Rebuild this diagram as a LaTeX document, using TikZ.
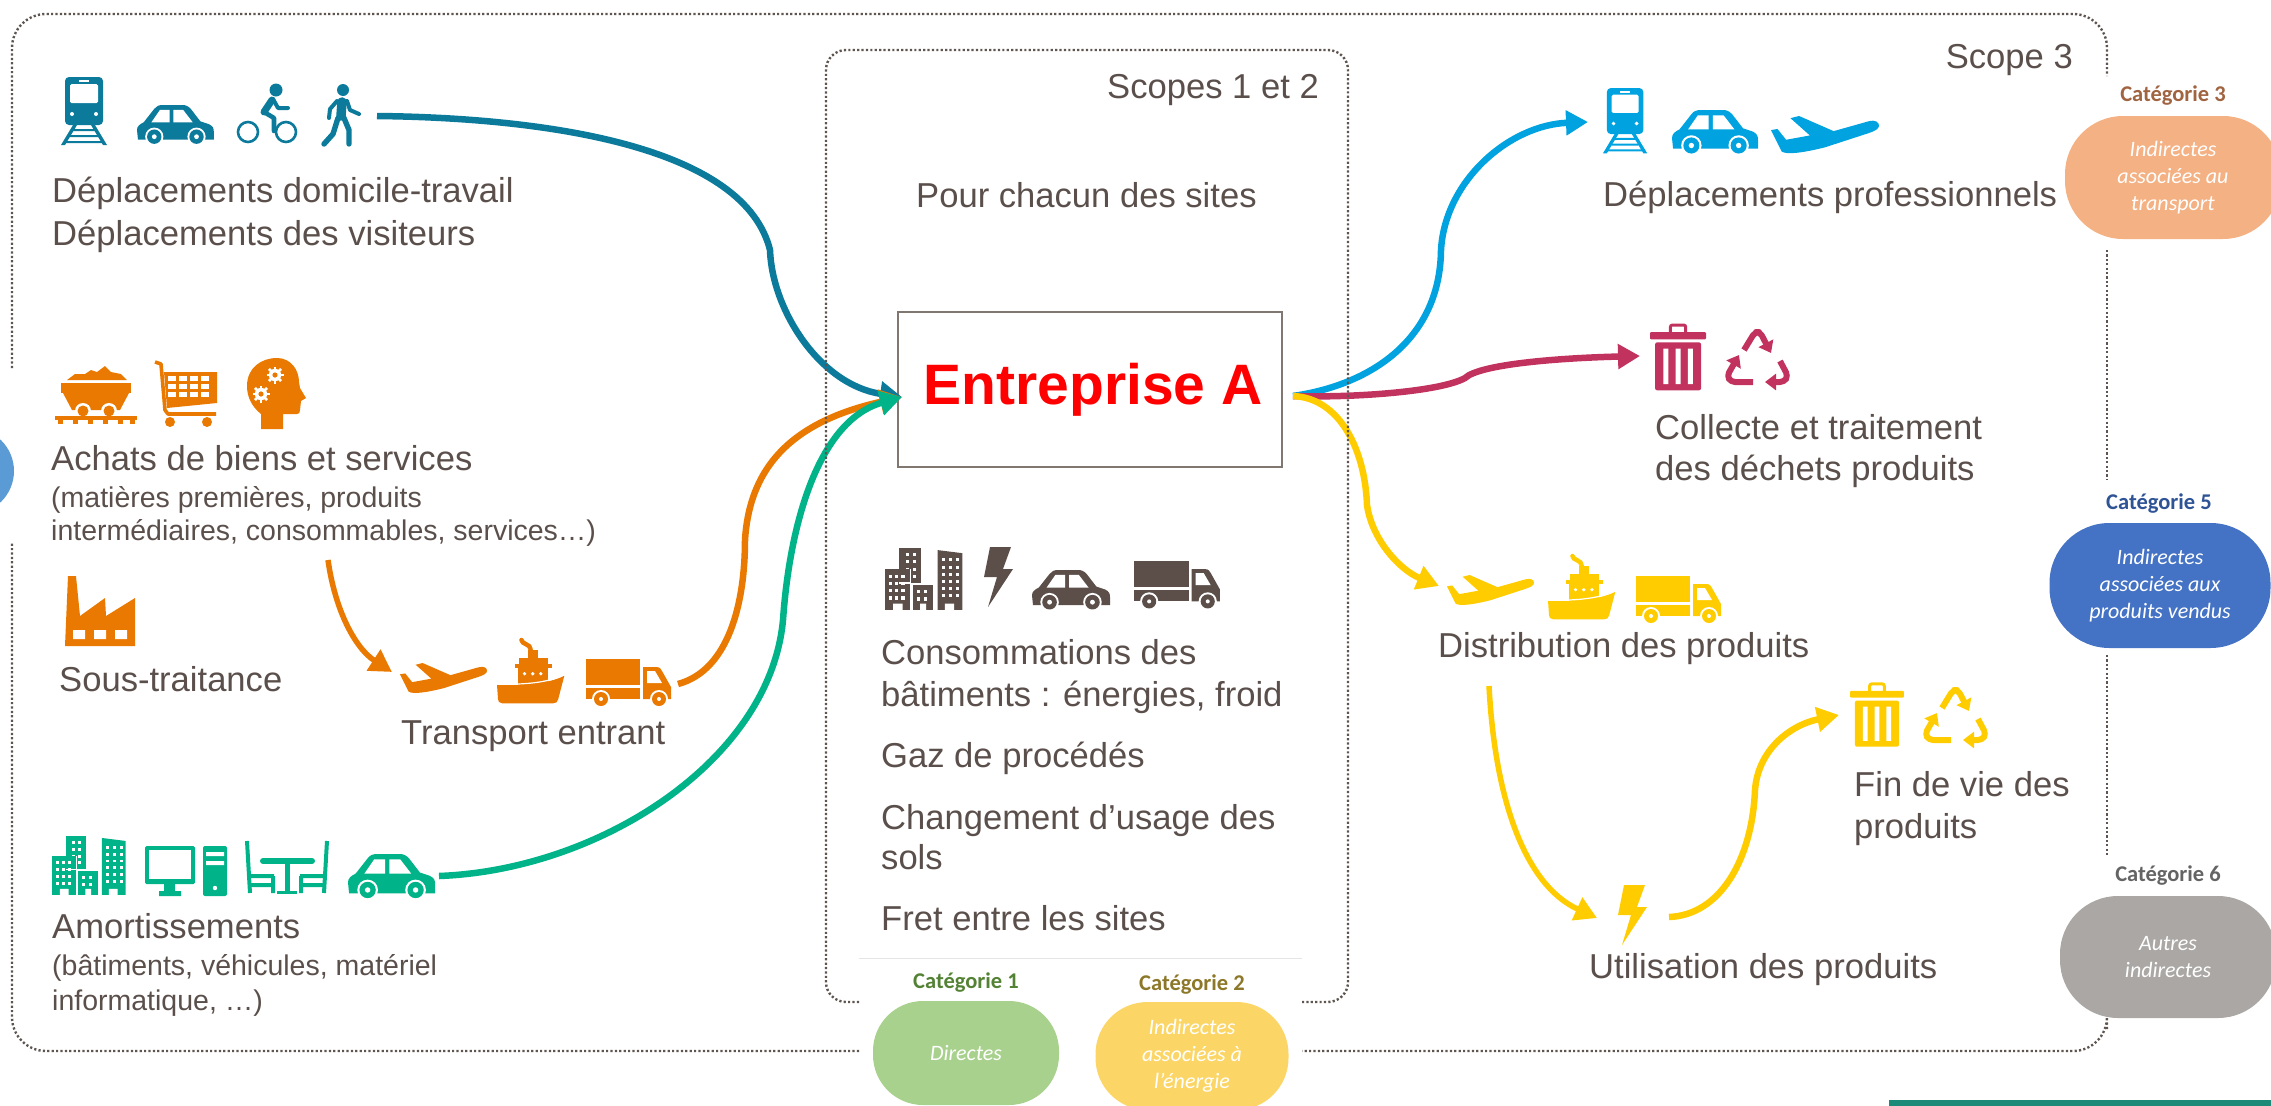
\documentclass[tikz,border=0pt]{standalone}
\usepackage{fontspec}
\setmainfont{Liberation Sans}
\newfontfamily\catfont{Carlito}
\usetikzlibrary{arrows.meta}
\definecolor{txt}{HTML}{5A4F4B}
\definecolor{frameC}{HTML}{5E5551}
\definecolor{tealC}{HTML}{0B7A9B}
\definecolor{orangeC}{HTML}{E97900}
\definecolor{greenC}{HTML}{00B388}
\definecolor{grayC}{HTML}{5C4F4A}
\definecolor{skyC}{HTML}{00A3E0}
\definecolor{magC}{HTML}{C2325F}
\definecolor{yelC}{HTML}{FFCC00}
\definecolor{leftC}{HTML}{5B9BD5}
\definecolor{barC}{HTML}{1B8A78}
\definecolor{boxC}{HTML}{7F7770}
\definecolor{fillA}{HTML}{A9D18E}
\definecolor{fillB}{HTML}{FBD667}
\definecolor{fillC}{HTML}{F4B183}
\definecolor{fillD}{HTML}{4472C4}
\definecolor{fillE}{HTML}{AAA7A5}
\definecolor{labA}{HTML}{548235}
\definecolor{labB}{HTML}{8C7828}
\definecolor{labC}{HTML}{A06441}
\definecolor{labD}{HTML}{2F5496}
\definecolor{labE}{HTML}{646464}
\tikzset{
  lbl/.style={anchor=base west,inner sep=0pt,text=txt,font=\fontsize{34.6}{40}\selectfont},
  ml/.style={anchor=north west,inner sep=0pt,text=txt,align=left,font=\fontsize{34.6}{#1}\selectfont},
  subt/.style={anchor=north west,inner sep=0pt,text=txt,align=left,font=\fontsize{28.5}{#1}\selectfont},
  catlabel/.style={inner sep=0pt,font=\catfont\bfseries\fontsize{22.5}{24}\selectfont},
  blob/.style={inner sep=0pt,text=white,align=center,minimum width=#1,
     font=\catfont\itshape\fontsize{22}{27}\selectfont},
  flow/.style={line width=6.5pt,-{Triangle[length=22pt,width=24pt]}},
  dotframe/.style={draw=frameC,line width=2.4pt,dash pattern=on 2.2pt off 2.2pt},
  pics/icar/.style={code={
    \fill (1,36) -- (0,26) .. controls (0,22) and (3,20) .. (7,18) -- (18,4) .. controls (20,1) and (23,0) .. (27,0) -- (47,0) .. controls (51,0) and (53,1) .. (56,4) -- (66,17) -- (75,20) .. controls (79,22) and (80,24) .. (80,28) -- (80,36) -- cycle;
    \fill[white] (15,18) -- (24,5) -- (34,5) -- (34,18) -- cycle (38,5) -- (48,5) -- (58,18) -- (38,18) -- cycle;
    \foreach \c in {18,62}{
      \fill[white] (\c,33) circle (9.5);
      \fill (\c,33) circle (7.5);
      \fill[white] (\c,33) circle (2.5);}
  }},
  pics/itrain/.style={code={
    \fill[rounded corners=4pt] (4,0) rectangle (42,48);
    \fill[white,rounded corners=1.5pt] (9,7) rectangle (37,26);
    \fill[white] (18,3) rectangle (28,5);
    \fill[white] (11,37) circle (2) (35,37) circle (2);
    \fill (12,48) -- (16,48) -- (4,68) -- (0,68) -- cycle (30,48) -- (34,48) -- (46,68) -- (42,68) -- cycle;
    \fill (12,52) rectangle (34,54) (9,58) rectangle (37,60) (5,64) rectangle (41,66);
  }},
  pics/ibike/.style={code={
    \draw[line width=2.6pt] (11,49) circle (10) (49,49) circle (10);
    \fill (39,7) circle (6.5);
    \draw[line width=7pt,line cap=round] (35,17) -- (27,29);
    \draw[line width=4.6pt,line join=round,line cap=round] (27,29) -- (37,35) -- (37,48);
    \draw[line width=4pt,line join=round,line cap=round] (36,16) -- (41,25) -- (51,25);
  }},
  pics/iwalker/.style={code={
    \fill (22,6) circle (6);
    \draw[line width=9.5pt,line cap=round] (21,18) -- (20,32);
    \draw[line width=4pt,line join=round,line cap=round] (16,17) -- (9,25) -- (8,34);
    \draw[line width=4pt,line join=round,line cap=round] (26,17) -- (29,26) -- (38,30);
    \draw[line width=5.4pt,line join=round,line cap=round] (17,34) -- (12,50) -- (3,60);
    \draw[line width=5.4pt,line join=round,line cap=round] (23,34) -- (28,46) -- (28,60);
  }},
  pics/iplane/.style={code={
    \fill (0,13) -- (6,12) -- (14,22) -- (36,18) -- (18,2) -- (26,0) -- (58,14) -- (90,5) .. controls (97,3) and (100,6) .. (100,9) .. controls (100,12) and (96,14) .. (90,16) -- (50,29) .. controls (30,34) and (15,36) .. (10,33) -- cycle;
  }},
  pics/iship/.style={code={
    \draw[line width=4.5pt,line cap=round] (24,2) .. controls (24,6) and (33,6) .. (33,11);
    \fill (30,12) rectangle (40,22);
    \fill (22,20) rectangle (50,25);
    \fill (18,25) rectangle (54,29);
    \fill (21,29) rectangle (50,46);
    \foreach \c in {27,35,43}{\fill[white] (\c,35) circle (1.8);}
    \fill (0,46) .. controls (25,47) and (50,45) .. (66,37) -- (60,60) .. controls (59,63) and (58,64) .. (55,64) -- (5,64) .. controls (2,64) and (1,62) .. (1,60) -- cycle;
    \draw[white,line width=1.2pt] (0,45) .. controls (25,46) and (50,44) .. (66,36);
  }},
  pics/itruck/.style={code={
    \fill (0,0) rectangle (54,40);
    \fill[white] (0,26) rectangle (54,28.5);
    \fill (57,8) -- (70,8) .. controls (74,8) and (75,10) .. (76,12) -- (85,28) -- (85,40) -- (57,40) -- cycle;
    \fill[white] (61,12) -- (69,12) -- (76,24) -- (61,24) -- cycle;
    \foreach \c in {15,73}{
      \fill[white] (\c,40) circle (9);
      \fill (\c,40) circle (7);
      \fill[white] (\c,40) circle (2);}
  }},
  pics/ibolt/.style={code={
    \fill (6,0) -- (27,0) -- (19,22) -- (29,22) -- (4,60) -- (13,30) -- (0,30) -- cycle;
  }},
  pics/ibuilding/.style={code={
    \fill (14,0) rectangle (35,34);
    \fill (0,20) rectangle (25,60);
    \fill (27,36) rectangle (47,60);
    \fill (51,2) -- (75,5) -- (75,60) -- (51,60) -- cycle;
    \foreach \x in {20,27}{\foreach \y in {5,12,19,26}{\fill[white] (\x,\y) rectangle ++(3,3);}}
    \fill (14,20) rectangle (25,34);
    \draw[white,line width=1.3pt] (25,20) -- (25,60) (14,34) -- (25,34);
    \foreach \x in {4,10,16}{\foreach \y in {26,33,40,47}{\fill[white] (\x,\y) rectangle ++(3,3);}}
    \foreach \x in {31,38}{\foreach \y in {41,48}{\fill[white] (\x,\y) rectangle ++(3,3);}}
    \foreach \x in {55,62,69}{\foreach \y in {10,17,24,31,38,45}{\fill[white] (\x,\y) rectangle ++(3,3);}}
    \fill[white] (8,54) rectangle (17,60) (34,54) rectangle (40,60) (58,54) rectangle (67,60);
  }},
  pics/itrash/.style={code={
    \draw[line width=3pt,rounded corners=2pt] (20,10) -- (20,2) -- (35,2) -- (35,10);
    \fill[rounded corners=1pt] (0,9) rectangle (55,16);
    \fill[rounded corners=2pt] (5,19) rectangle (50,66);
    \fill[white] (13,25) rectangle (18,60) (25,25) rectangle (30,60) (37,25) rectangle (42,60);
  }},
  pics/irecycle/.style={code={
    \begin{scope}[line width=6pt,line join=round,rounded corners=4pt]
    \draw[-{Triangle[length=11pt,width=16pt]}] (19,22) -- (30,4) -- (35,4) -- (46,25);
    \draw[-{Triangle[length=11pt,width=16pt]}] (55,33) -- (63,48) -- (59,54) -- (40,54);
    \draw[-{Triangle[length=11pt,width=16pt]}] (28,54) -- (6,54) -- (2,48) -- (14,27);
    \end{scope}
  }},
  pics/iwagon/.style={code={
    \fill (12,14) -- (20,8) -- (30,8) -- (36,4) -- (42,6) -- (50,0) -- (56,6) -- (66,8) -- (72,14) -- cycle;
    \fill (6,17) rectangle (76,27);
    \fill (8,27) -- (74,27) -- (65,44) -- (17,44) -- cycle;
    \foreach \c in {28,54}{
      \fill[white] (\c,45) circle (8);
      \fill (\c,45) circle (5.5);}
    \fill (0,50) rectangle (82,54);
    \foreach \c in {3,18,33,48,63,75}{\fill (\c,54) rectangle ++(5,4);}
  }},
  pics/icart/.style={code={
    \draw[line width=3.6pt,line join=round] (0,2) -- (6,4) -- (10,50) -- (13,54) -- (61,54);
    \fill (9,12) -- (62,12) -- (62,43) -- (12,48) -- cycle;
    \foreach \x in {13,24,35,46}{\foreach \y in {16,24,32}{\fill[white] (\x,\y) rectangle ++(8,5);}}
    \fill (15,62) circle (5) (52,62) circle (5);
  }},
  pics/ihead/.style={code={
    \fill (14,71) -- (14,56) .. controls (4,48) and (0,38) .. (0,28) .. controls (0,10) and (14,0) .. (30,0) .. controls (44,0) and (52,12) .. (52,24) -- (53,30) -- (59,40) -- (54,43) -- (53,52) .. controls (53,55) and (52,56) .. (50,56) -- (36,56) -- (36,71) -- cycle;
    \foreach \px/\py in {28/17,14/36}{
      \begin{scope}[shift={(\px,\py)}]
      \foreach \a in {0,45,...,315}{\draw[white,line width=2.6pt] (\a:4) -- (\a:8.5);}
      \fill[white] (0,0) circle (6.2);
      \fill (0,0) circle (2.6);
      \end{scope}}
  }},
  pics/ifactory/.style={code={
    \fill (0,70) -- (3,0) -- (11,0) -- (15,40) -- (40,22) -- (41,40) -- (70,22) -- (70,70) -- cycle;
    \fill[white] (8,54) rectangle (20,63) (29,54) rectangle (41,63) (50,54) rectangle (62,63);
  }},
  pics/icomputer/.style={code={
    \fill[rounded corners=1.5pt] (0,0) rectangle (50,38);
    \fill[white] (4,4) rectangle (46,33);
    \fill (19,38) rectangle (30,45) (14,45) rectangle (36,50);
    \fill[rounded corners=2pt] (58,0) rectangle (82,50);
    \fill[white] (61,6) rectangle (79,10) (61,15) rectangle (79,19);
    \fill[white] (70,42) circle (2.2);
  }},
  pics/itable/.style={code={
    \begin{scope}[line width=4pt]
    \draw (1,0) -- (4,52) (3,35) -- (28,35) (27,35) -- (27,52) (4,44) -- (27,44);
    \draw (81,0) -- (78,52) (79,35) -- (54,35) (55,35) -- (55,52) (78,44) -- (55,44);
    \end{scope}
    \draw[line width=6pt,line cap=round] (17,20) -- (66,20);
    \draw[line width=5pt] (41,20) -- (41,50);
    \draw[line width=3.6pt] (31,51.5) -- (51,51.5);
  }},
}
\begin{document}
\begin{tikzpicture}[x=1pt,y=-1pt]
\useasboundingbox (0,0) rectangle (2271,1106);
% off-page shapes
\node[circle,fill=leftC,minimum size=86pt,inner sep=0pt] (leftblob) at (-29,471) {};
\fill[barC] (1889,1100) rectangle (2271,1106);

% entreprise
\node[draw=boxC,line width=2.6pt,minimum width=384pt,minimum height=155pt,inner sep=0pt,text=red,font=\bfseries\fontsize{57}{60}\selectfont] (ent) at (1090,389.5) {\hspace{6pt}Entreprise A};

% connector ends
\coordinate (inA) at (902,397);
\coordinate (outA) at (1293,396);
\coordinate (walkEnd) at (377,116);
\coordinate (buyEnd) at (328,560);
\coordinate (planeIn) at (392,672);
\coordinate (truckOut) at (678,684);
\coordinate (carOut) at (439,876);
\coordinate (trainIn) at (1588,122);
\coordinate (trashIn) at (1640,356);
\coordinate (planeY) at (1439,586);
\coordinate (distOut) at (1489,686);
\coordinate (boltIn) at (1597,918);
\coordinate (boltOut) at (1669,917);
\coordinate (trashY) at (1839,715);

% connectors
\draw[flow,tealC] (walkEnd) .. controls (560,118) and (745,150) .. (770,250) .. controls (772,310) and (820,385) .. (inA);
\draw[flow,orangeC,line width=5.5pt] (buyEnd) .. controls (335,610) and (355,648) .. (planeIn);
\draw[flow,orangeC] (truckOut) .. controls (730,670) and (745,600) .. (745,540) .. controls (750,460) and (800,420) .. (inA);
\draw[flow,greenC] (carOut) .. controls (600,870) and (770,760) .. (783,620) .. controls (790,520) and (820,420) .. (inA);
\draw[flow,skyC] (outA) .. controls (1370,385) and (1440,340) .. (1441,250) .. controls (1445,180) and (1510,125) .. (trainIn);
\draw[flow,magC] (outA) .. controls (1350,398) and (1440,392) .. (1465,378) .. controls (1480,364) and (1560,358) .. (trashIn);
\draw[flow,yelC] (outA) .. controls (1340,398) and (1365,450) .. (1367,505) .. controls (1372,540) and (1400,570) .. (planeY);
\draw[flow,yelC,line width=5.5pt] (distOut) .. controls (1495,800) and (1525,885) .. (boltIn);
\draw[flow,yelC] (boltOut) .. controls (1720,915) and (1752,860) .. (1755,790) .. controls (1758,750) and (1790,725) .. (trashY);

% frames
\path[dotframe,rounded corners=34pt] (12,368) -- (12,14) -- (2107,14) -- (2107,76);
\path[dotframe] (2107,250) -- (2107,480) (2107,655) -- (2107,856);
\path[dotframe,rounded corners=34pt] (2107,1029) -- (2107,1051) -- (1302,1051);
\path[dotframe,rounded corners=34pt] (859,1051) -- (12,1051) -- (12,543);
\path[dotframe,rounded corners=20pt] (859,1002) -- (826,1002) -- (826,50) -- (1348,50) -- (1348,1002) -- (1302,1002);
\draw[black!10,line width=.8pt] (859,958) -- (1302,958);

% icons
\pic[color=tealC] (i1) at (61,77) {itrain};
\pic[color=tealC,scale=.96] (i2) at (137,105) {icar};
\pic[color=tealC] (i3) at (237,83) {ibike};
\pic[color=tealC] (i4) at (321,84) {iwalker};
\pic[color=orangeC] (i5) at (55,366) {iwagon};
\pic[color=orangeC] (i6) at (155,360) {icart};
\pic[color=orangeC] (i7) at (247,358) {ihead};
\pic[color=orangeC] (i8) at (65,576) {ifactory};
\pic[color=orangeC,scale=.87] (i9) at (400,663) {iplane};
\pic[color=orangeC,scale=1.02] (i10) at (497,638) {iship};
\pic[color=orangeC] (i11) at (586,659) {itruck};
\pic[color=greenC,scale=.98] (i12) at (52,836) {ibuilding};
\pic[color=greenC] (i13) at (145,846) {icomputer};
\pic[color=greenC] (i14) at (246,841) {itable};
\pic[color=greenC,scale=1.09] (i15) at (348,854) {icar};
\pic[color=grayC,scale=1.03] (i16) at (885,548) {ibuilding};
\pic[color=grayC] (i17) at (984,547) {ibolt};
\pic[color=grayC,scale=.975] (i18) at (1032,570) {icar};
\pic[color=grayC,scale=1.01] (i19) at (1134,561) {itruck};
\pic[color=skyC,scale=.96] (i20) at (1603,88) {itrain};
\pic[color=skyC,scale=1.075] (i21) at (1672,110) {icar};
\pic[color=skyC,scale=1.08] (i22) at (1771,116) {iplane};
\pic[color=magC,scale=1.02] (i23) at (1650,323) {itrash};
\pic[color=magC] (i24) at (1725,328) {irecycle};
\pic[color=yelC,scale=.87] (i25) at (1447,575) {iplane};
\pic[color=yelC,scale=1.02] (i26) at (1548,554) {iship};
\pic[color=yelC] (i27) at (1636,576) {itruck};
\pic[color=yelC,scale=.98] (i28) at (1850,682) {itrash};
\pic[color=yelC] (i29) at (1923,686) {irecycle};
\pic[color=yelC] (i30) at (1618,885) {ibolt};

% texts
\node[ml=43pt] (t1) at (52,171.9) {\strut Déplacements domicile-travail\\Déplacements des visiteurs};
\node[lbl] (t2) at (51,470) {Achats de biens et services};
\node[subt=33pt] (t3) at (51,483.9) {\strut (matières premières, produits\\intermédiaires, consommables, services…)};
\node[lbl] (t4) at (59,691) {Sous-traitance};
\node[lbl] (t5) at (401,744) {Transport entrant};
\node[lbl] (t6) at (52,938) {Amortissements};
\node[subt=35pt] (t7) at (52,950.5) {\strut (bâtiments, véhicules, matériel\\informatique, …)};
\node[lbl,anchor=base east] (t8) at (1319,98) {Scopes 1 et 2};
\node[lbl] (t9) at (916,207) {Pour chacun des sites};
\node[ml=42pt] (t10) at (881,634.6) {\strut Consommations des\\bâtiments : énergies, froid};
\node[lbl] (t11) at (881,767) {Gaz de procédés};
\node[ml=40pt] (t12) at (881,801) {\strut Changement d’usage des\\sols};
\node[lbl] (t13) at (881,930) {Fret entre les sites};
\node[lbl,anchor=base east] (t14) at (2073,68) {Scope 3};
\node[lbl] (t15) at (1603,206) {Déplacements professionnels};
\node[ml=41pt] (t16) at (1655,410.3) {\strut Collecte et traitement\\des déchets produits};
\node[lbl] (t17) at (1438,657) {Distribution des produits};
\node[ml=42pt] (t18) at (1854,766.6) {\strut Fin de vie des\\produits};
\node[lbl] (t19) at (1589,978) {Utilisation des produits};

% categories
\node[blob=186pt,minimum height=104pt,rounded corners=50pt,fill=fillA] (c1) at (966,1053) {Directes};
\node[blob=193pt,minimum height=108pt,rounded corners=52pt,fill=fillB] (c2) at (1192,1056) {Indirectes\\associées à\\l’énergie};
\node[blob=216pt,minimum height=123pt,rounded corners=58pt,fill=fillC] (c3) at (2173,177.5) {Indirectes\\associées au\\transport};
\node[blob=221pt,minimum height=125pt,rounded corners=60pt,fill=fillD] (c5) at (2160,585.5) {Indirectes\\associées aux\\produits vendus};
\node[blob=216pt,minimum height=122pt,rounded corners=58pt,fill=fillE] (c6) at (2168,957) {Autres\\indirectes};
\node[catlabel,text=labA] (l1) at (966,983) {Catégorie 1};
\node[catlabel,text=labB] (l2) at (1192,984) {Catégorie 2};
\node[catlabel,text=labC] (l3) at (2173,96) {Catégorie 3};
\node[catlabel,text=labD] (l5) at (2159,504) {Catégorie 5};
\node[catlabel,text=labE] (l6) at (2168,876) {Catégorie 6};
\end{tikzpicture}
\end{document}
